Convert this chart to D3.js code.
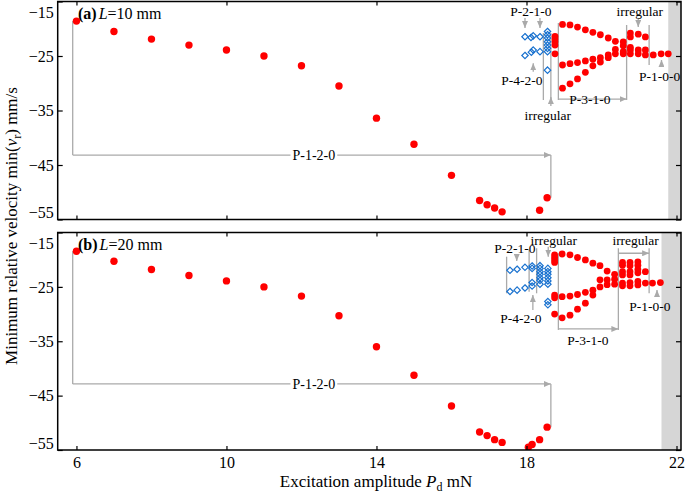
<!DOCTYPE html>
<html><head><meta charset="utf-8">
<script src="https://cdn.jsdelivr.net/npm/d3@7"></script>
<style>
body{margin:0;background:#fff}
svg{display:block}
text{font-family:"Liberation Serif","Times New Roman",serif;fill:#000}
</style>
</head><body>
<svg id="c" width="685" height="497"></svg>
<script>
// ---------- data ----------
const xTicks = [6, 10, 14, 18, 22];
const yTicks = [-15, -25, -35, -45, -55];

// panel (a) L = 10 mm : P-1-2-0 branch
const aMainX = [6, 7, 8, 9, 10, 11, 12, 13, 14, 15, 16, 16.75, 16.95, 17.15, 17.35, 18.35, 18.55];
const aMainY = [-18.6, -20.5, -21.9, -23.0, -23.9, -25.0, -26.8, -30.5, -36.4, -41.2, -46.9, -51.5, -52.3, -52.9, -53.6, -53.3, -51.0];
// panel (a) inset, red solution points
const aRedX = [18.76, 18.76, 18.76, 18.76, 18.76,
  18.96, 18.96, 18.96, 19.16, 19.16, 19.16, 19.36, 19.36, 19.36, 19.57, 19.57, 19.57,
  19.77, 19.77, 19.77, 19.97, 19.97, 19.97, 20.18, 20.18, 20.18, 20.37, 20.37, 20.37,
  20.58, 20.58, 20.58, 20.58, 20.77, 20.77, 20.77, 20.77, 20.77,
  20.98, 20.98, 20.98, 21.17, 21.17, 21.17, 21.38, 21.59, 21.78];
const aRedY = [-21.4, -21.9, -22.4, -23.0, -24.6,
  -19.2, -26.65, -30.9, -19.3, -26.4, -30.1, -19.7, -26.2, -29.2, -20.2, -25.9, -28.0,
  -20.65, -25.6, -26.8, -21.1, -25.3, -26.1, -21.7, -24.8, -25.3, -22.3, -23.8, -24.6,
  -22.4, -23.1, -24.2, -24.6, -20.8, -21.5, -23.4, -23.9, -24.6,
  -21.0, -23.9, -24.6, -21.5, -23.9, -24.8, -24.8, -24.6, -24.6];
// panel (a) inset, blue solution points
const aBlueX = [17.96, 18.12, 18.18, 18.36, 17.96, 18.13, 18.18, 18.36,
  18.56, 18.56, 18.56, 18.56, 18.56, 18.56, 18.56, 18.56];
const aBlueY = [-21.46, -21.6, -21.3, -21.46, -24.9, -24.3, -23.9, -24.2,
  -20.5, -21.1, -21.7, -22.4, -23.0, -23.6, -24.2, -27.6];

// panel (b) L = 20 mm : P-1-2-0 branch
const bMainX = [6, 7, 8, 9, 10, 11, 12, 13, 14, 15, 16, 16.75, 16.95, 17.15, 17.35, 18.05, 18.15, 18.35, 18.55];
const bMainY = [-18.45, -20.3, -21.8, -22.9, -23.9, -25.0, -26.7, -30.3, -36.0, -41.25, -46.9, -51.7, -52.35, -53.1, -53.6, -54.5, -54.0, -53.1, -50.8];
const bRedX = [18.75, 18.75, 18.75, 18.75, 18.75, 18.75, 18.75,
  18.95, 18.95, 18.95, 19.16, 19.16, 19.16, 19.36, 19.36, 19.36, 19.57, 19.57, 19.57,
  19.77, 19.77, 19.77, 19.96, 19.96, 19.96, 20.15, 20.15, 20.15, 20.35, 20.35, 20.35,
  20.56, 20.56, 20.56, 20.56, 20.56, 20.56, 20.76, 20.76, 20.76, 20.76, 20.76, 20.76,
  20.97, 20.97, 20.97, 20.97, 20.97, 20.97, 21.17, 21.17, 21.36, 21.57];
const bRedY = [-19.1, -19.6, -20.05, -20.5, -26.5, -27.0, -30.0,
  -18.95, -26.8, -30.7, -19.1, -26.7, -30.2, -19.6, -26.4, -29.1, -20.05, -26.0, -28.0,
  -20.65, -25.6, -26.5, -21.1, -25.0, -23.7, -22.1, -24.6, -23.7, -22.7, -24.5, -23.6,
  -20.5, -21.0, -22.2, -22.8, -24.3, -24.8, -20.5, -21.1, -22.2, -22.8, -24.2, -24.8,
  -20.4, -21.0, -21.8, -22.4, -24.0, -24.65, -22.2, -24.3, -24.3, -24.2];
const bBlueX = [17.56, 17.75, 17.96, 18.15, 18.15, 17.56, 17.75, 17.96, 18.15, 18.15,
  18.36, 18.36, 18.36, 18.36, 18.36, 18.36, 18.36,
  18.57, 18.57, 18.57, 18.57, 18.57, 18.57, 18.57, 18.57];
const bBlueY = [-21.95, -21.75, -21.4, -21.15, -21.6, -25.85, -25.6, -25.2, -24.85, -24.2,
  -21.1, -21.6, -22.2, -22.7, -23.3, -23.8, -24.5,
  -21.6, -22.2, -22.7, -23.3, -23.9, -24.5, -27.7, -28.3];

// unstable/end region start (grey band) for each panel
const bandStart = {a: 21.78, b: 21.6};

// ---------- layout ----------
const svg = d3.select("#c");
const left = 57.7, right = 681;
const x = d3.scaleLinear().domain([5.5, 22.12]).range([left, right]);
const grey = "#aaaaaa";
const redC = "#ff0000";
const blueC = "#1a72cf";

const defs = svg.append("defs");
defs.append("marker").attr("id", "ah").attr("markerUnits", "userSpaceOnUse")
  .attr("markerWidth", 8).attr("markerHeight", 6).attr("refX", 7).attr("refY", 3)
  .attr("orient", "auto")
  .append("path").attr("d", "M0,0L7,3L0,6Z").attr("fill", grey);

function panel(cfg) {
  const y = d3.scaleLinear().domain([-55, -15]).range([cfg.bottom, cfg.top]);
  const g = svg.append("g");
  const cid = "clip" + cfg.id;
  defs.append("clipPath").attr("id", cid).append("rect")
    .attr("x", left).attr("y", cfg.top).attr("width", right - left).attr("height", cfg.bottom - cfg.top);

  // grey band
  g.append("rect").attr("x", x(cfg.band)).attr("y", cfg.top)
    .attr("width", right - x(cfg.band)).attr("height", cfg.bottom - cfg.top).attr("fill", "#d6d6d6");

  const ann = g.append("g").attr("clip-path", `url(#${cid})`);
  // P-1-2-0 bracket
  const mx = cfg.mainX, my = cfg.mainY;
  const by = cfg.bracketY;
  ann.append("line").attr("x1", x(5.9)).attr("x2", x(5.9)).attr("y1", y(my[0])).attr("y2", y(by)).attr("stroke", grey).attr("stroke-width", 1.3);
  ann.append("line").attr("x1", x(5.9)).attr("x2", x(18.65)).attr("y1", y(by)).attr("y2", y(by))
    .attr("stroke", grey).attr("stroke-width", 1.3).attr("marker-end", "url(#ah)");
  ann.append("line").attr("x1", x(18.65)).attr("x2", x(18.65)).attr("y1", y(by)).attr("y2", y(my[my.length - 1])).attr("stroke", grey).attr("stroke-width", 1.3);
  const lt = ann.append("text").attr("x", x(12.33)).attr("y", y(by)).attr("dy", "0.35em")
    .attr("text-anchor", "middle").attr("font-size", 14).text("P-1-2-0");
  const bb = lt.node().getBBox();
  ann.insert("rect", "text").attr("x", bb.x - 2).attr("y", bb.y).attr("width", bb.width + 4).attr("height", bb.height).attr("fill", "#fff");

  // vertical boundary lines
  cfg.vlines.forEach(v => {
    ann.append("line").attr("x1", x(v[0])).attr("x2", x(v[0])).attr("y1", y(v[1])).attr("y2", y(v[2]))
      .attr("stroke", grey).attr("stroke-width", 1.3);
  });
  // arrows
  cfg.arrows.forEach(a => {
    ann.append("line").attr("x1", x(a[0])).attr("y1", y(a[1])).attr("x2", x(a[2])).attr("y2", y(a[3]))
      .attr("stroke", grey).attr("stroke-width", 1.3).attr("marker-end", "url(#ah)");
  });
  // labels
  cfg.labels.forEach(l => {
    const t = ann.append("text").attr("x", x(l[1])).attr("y", y(l[2])).attr("dy", "0.35em")
      .attr("text-anchor", "middle").attr("font-size", 13.5).text(l[0]);
    if (l[3]) {
      const b = t.node().getBBox();
      ann.insert("rect", "text").attr("x", b.x - 2).attr("y", b.y + 2).attr("width", b.width + 4).attr("height", b.height - 4).attr("fill", "#fff");
    }
  });

  // data
  const pts = g.append("g").attr("clip-path", `url(#${cid})`);
  pts.selectAll(".m").data(d3.zip(mx, my)).join("circle").attr("class", "m")
    .attr("cx", d => x(d[0])).attr("cy", d => y(d[1])).attr("r", 3.7).attr("fill", redC);
  pts.selectAll(".r").data(d3.zip(cfg.redX, cfg.redY)).join("circle").attr("class", "r")
    .attr("cx", d => x(d[0])).attr("cy", d => y(d[1])).attr("r", 3.4).attr("fill", redC);
  pts.selectAll(".bl").data(d3.zip(cfg.blueX, cfg.blueY)).join("path").attr("class", "bl")
    .attr("d", d => { const cx = x(d[0]), cy = y(d[1]), s = 3.2; return `M${cx},${cy - s}L${cx + s},${cy}L${cx},${cy + s}L${cx - s},${cy}Z`; })
    .attr("fill", "none").attr("stroke", blueC).attr("stroke-width", 1.2);

  // axes
  const ax = g.append("g").attr("transform", `translate(0,${cfg.bottom})`)
    .call(d3.axisBottom(x).tickValues(xTicks).tickSize(-4).tickPadding(7).tickFormat(cfg.xlabels ? d3.format("d") : ""));
  const axT = g.append("g").attr("transform", `translate(0,${cfg.top})`)
    .call(d3.axisTop(x).tickValues(xTicks).tickSize(-4).tickFormat(""));
  const ay = g.append("g").attr("transform", `translate(${left},0)`)
    .call(d3.axisLeft(y).tickValues(yTicks).tickSize(-5).tickPadding(4).tickFormat(d3.format("d")));
  const ayR = g.append("g").attr("transform", `translate(${right},0)`)
    .call(d3.axisRight(y).tickValues(yTicks).tickSize(-5).tickFormat(""));
  [ax, axT, ay, ayR].forEach(a => {
    a.select(".domain").remove();
    a.selectAll(".tick line").attr("stroke", "#000").attr("stroke-width", 1.2);
    a.selectAll("text").attr("font-size", 16).attr("font-family", "Liberation Serif, serif");
  });
  ay.selectAll(".tick text").attr("dy", d => d === -15 ? "1.0em" : (d === -55 ? "-0.1em" : "0.32em"));
  ax.selectAll(".tick text").attr("dy", "0.71em");
  // frame
  g.append("rect").attr("x", left).attr("y", cfg.top).attr("width", right - left).attr("height", cfg.bottom - cfg.top)
    .attr("fill", "none").attr("stroke", "#000").attr("stroke-width", 1.5);

  // panel title
  const tt = g.append("text").attr("x", 78).attr("y", cfg.top + 17).attr("font-size", 16);
  tt.append("tspan").attr("font-weight", "bold").text(`(${cfg.id})`);
  tt.append("tspan").attr("font-style", "italic").attr("dx", 2).text("L");
  tt.append("tspan").text(`=${cfg.L} mm`);
}

panel({
  id: "a", L: 10, top: 1.5, bottom: 219.5, band: bandStart.a,
  mainX: aMainX, mainY: aMainY, redX: aRedX, redY: aRedY, blueX: aBlueX, blueY: aBlueY,
  bracketY: -43.17, xlabels: false,
  vlines: [[18.45, -20.78, -33.07], [18.65, -20.78, -33.07], [18.85, -18.94, -33.07], [20.67, -19.31, -33.07], [21.27, -19.31, -26.65]],
  arrows: [[17.96, -18.03, 17.96, -19.86], [18.36, -18.03, 18.36, -19.86],
    [18.18, -27.88, 18.18, -26.34], [18.65, -34.17, 18.65, -32.52],
    [18.85, -32.9, 20.67, -32.9], [20.98, -18.03, 20.98, -19.68], [21.6, -26.96, 21.6, -25.73]],
  labels: [["P-2-1-0", 18.12, -16.87], ["P-4-2-0", 17.88, -29.4], ["irregular", 18.57, -35.8],
    ["P-3-1-0", 19.69, -32.9, true], ["irregular", 21.02, -16.87], ["P-1-0-0", 21.55, -28.8]]
});
panel({
  id: "b", L: 20, top: 232.5, bottom: 450, band: bandStart.b,
  mainX: bMainX, mainY: bMainY, redX: bRedX, redY: bRedY, blueX: bBlueX, blueY: bBlueY,
  bracketY: -42.85, xlabels: true,
  vlines: [[17.47, -19.45, -26.18], [18.07, -18.22, -25.88], [18.27, -17.9, -26.18], [18.85, -18.82, -32.92], [20.45, -17.9, -32.92], [21.27, -17.9, -26.18]],
  arrows: [[17.74, -19.14, 17.74, -20.24], [18.58, -17.61, 18.58, -19.45],
    [20.45, -18.82, 21.27, -18.82], [18.17, -29.25, 18.17, -26.49],
    [18.85, -32.74, 20.45, -32.74], [21.48, -26.86, 21.48, -25.57]],
  labels: [["P-2-1-0", 17.69, -17.9], ["irregular", 18.73, -16.38], ["irregular", 20.91, -16.38],
    ["P-4-2-0", 17.85, -30.77], ["P-3-1-0", 19.64, -34.76], ["P-1-0-0", 21.29, -28.64]]
});

// axis titles
const xt = svg.append("text").attr("x", 376).attr("y", 487).attr("text-anchor", "middle").attr("font-size", 17);
xt.append("tspan").text("Excitation amplitude ");
xt.append("tspan").attr("font-style", "italic").text("P");
xt.append("tspan").attr("font-size", 12).attr("dy", 4).text("d");
xt.append("tspan").attr("dy", -4).text(" mN");

const yt = svg.append("text").attr("transform", "translate(17,226) rotate(-90)").attr("text-anchor", "middle").attr("font-size", 17);
yt.append("tspan").text("Minimum relative velocity min(");
yt.append("tspan").attr("font-style", "italic").text("v");
yt.append("tspan").attr("font-size", 12).attr("dy", 4).text("r");
yt.append("tspan").attr("dy", -4).text(") mm/s");
</script>
</body></html>
